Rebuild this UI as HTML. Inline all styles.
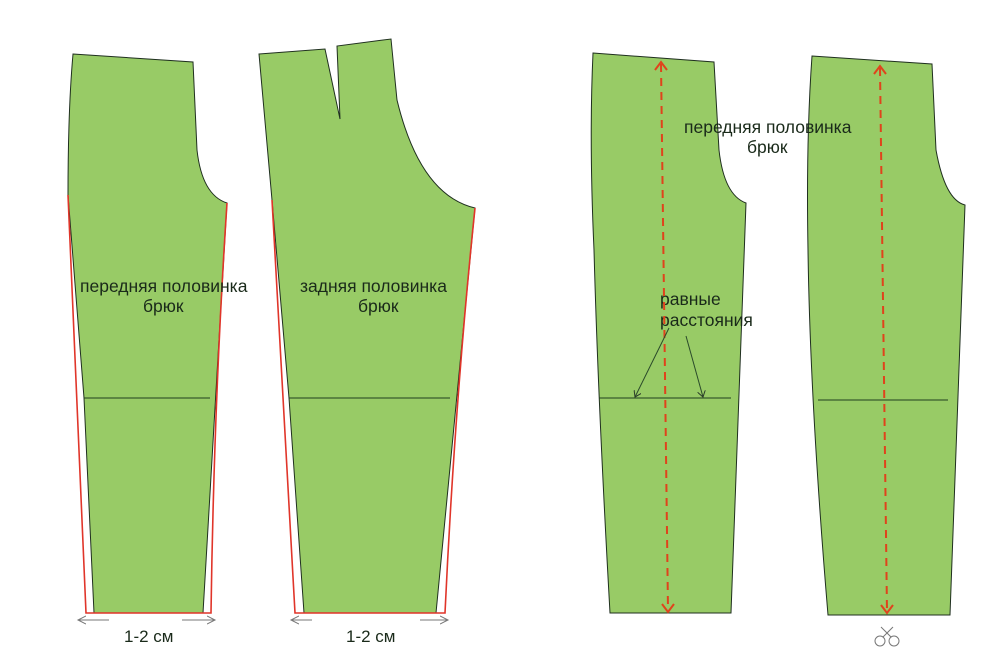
<!DOCTYPE html>
<html><head><meta charset="utf-8"><style>
html,body{margin:0;padding:0;background:#fff;}
svg{display:block;}
text{font-family:"Liberation Sans",sans-serif;font-size:17.5px;fill:#1a2a1a;}
</style></head><body>
<svg width="1000" height="667" viewBox="0 0 1000 667" xmlns="http://www.w3.org/2000/svg">
<defs>
<marker id="ah" markerWidth="8" markerHeight="8" refX="6" refY="4" orient="auto" markerUnits="userSpaceOnUse"><path d="M0,0 L6,4 L0,8" fill="none" stroke="#2a3a2a" stroke-width="1"/></marker>
<marker id="ga" markerWidth="10" markerHeight="10" refX="8" refY="5" orient="auto" markerUnits="userSpaceOnUse"><path d="M0,1 L8,5 L0,9" fill="none" stroke="#777" stroke-width="1"/></marker>
</defs>
<g fill="#98cb66" stroke="#1f2f1f" stroke-width="1">
<path d="M73,54 L193,62 L197,150 Q202,195 227,203 L203,613 L94,613 L84,398 L68,195 Q68,110 73,54 Z"/>
<path d="M259,54 L325,49 L340,119 L337,46 L391,39 L397,100 Q420,195 475,208 L436,613 L304,613 L289,398 L272,200 Z"/>
<path d="M593,53 L714,62 L719,150 Q724,195 746,203 L731,613 L610,613 Q598,400 594,250 Q589,140 593,53 Z"/>
<path d="M812,56 L932,64 L936,150 Q945,200 965,205 L950,615 L828,615 Q810,400 808,250 Q806,140 812,56 Z"/>
</g>
<g stroke="#1f3f1f" stroke-width="1">
<line x1="84" y1="398" x2="210" y2="398"/>
<line x1="289" y1="398" x2="450" y2="398"/>
<line x1="599" y1="398" x2="731" y2="398"/>
<line x1="818" y1="400" x2="948" y2="400"/>
</g>
<g fill="none" stroke="#e0352a" stroke-width="1.6">
<path d="M68,195 L86,613 L211,613 Q214,400 227,203"/>
<path d="M272,200 L295,613 L445,613 Q455,400 475,208"/>
</g>
<g stroke="#777" stroke-width="1" fill="none">
<line x1="109" y1="620" x2="78" y2="620" marker-end="url(#ga)"/>
<line x1="182" y1="620" x2="215" y2="620" marker-end="url(#ga)"/>
<line x1="312" y1="620" x2="291" y2="620" marker-end="url(#ga)"/>
<line x1="420" y1="620" x2="448" y2="620" marker-end="url(#ga)"/>
</g>
<text x="124" y="642" style="font-size:17px">1-2 см</text>
<text x="346" y="642" style="font-size:17px">1-2 см</text>
<text x="80" y="292">передняя половинка</text>
<text x="143" y="312">брюк</text>
<text x="300" y="292">задняя половинка</text>
<text x="358" y="312">брюк</text>
<text x="684" y="133">передняя половинка</text>
<text x="747" y="153">брюк</text>
<text x="660" y="305">равные</text>
<text x="660" y="326">расстояния</text>
<g stroke="#e0431c" stroke-width="2" stroke-dasharray="8,6" fill="none">
<line x1="661" y1="64" x2="668" y2="610"/>
<line x1="880" y1="68" x2="887" y2="612"/>
</g>
<path d="M655,70 L661,62 L667,70" fill="none" stroke="#e0431c" stroke-width="2"/>
<path d="M662,604 L668,612 L674,604" fill="none" stroke="#e0431c" stroke-width="2"/>
<path d="M874,74 L880,66 L886,74" fill="none" stroke="#e0431c" stroke-width="2"/>
<path d="M881,605 L887,613 L893,605" fill="none" stroke="#e0431c" stroke-width="2"/>
<g stroke="#2a4a2a" stroke-width="1" fill="none">
<line x1="669" y1="328" x2="635" y2="397" marker-end="url(#ah)"/>
<line x1="686" y1="336" x2="703" y2="397" marker-end="url(#ah)"/>
</g>
<g stroke="#777" stroke-width="1" fill="none">
<circle cx="880" cy="641" r="5"/>
<circle cx="894" cy="641" r="5"/>
<line x1="883" y1="637" x2="893" y2="627"/>
<line x1="891" y1="637" x2="881" y2="627"/>
</g>
</svg>
</body></html>
